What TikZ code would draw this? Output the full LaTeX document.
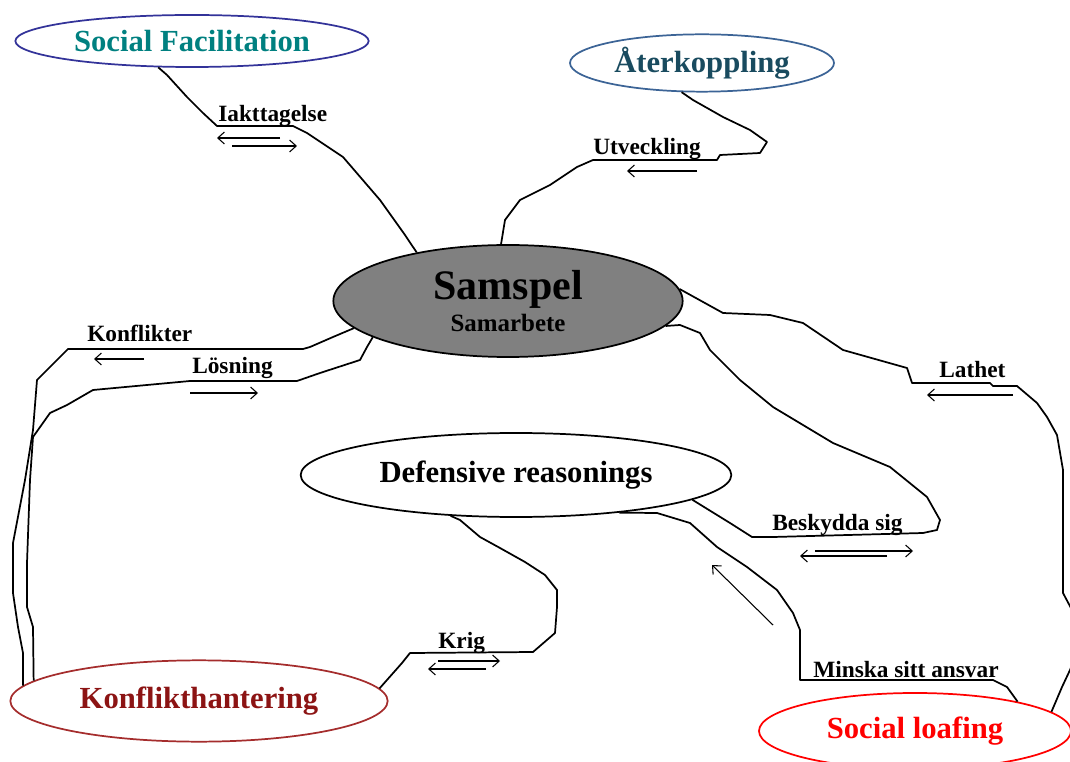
\documentclass[tikz,border=0pt]{standalone}
\usepackage{fontspec}
\setmainfont{Liberation Serif}
\usetikzlibrary{shapes.geometric,arrows.meta}
\definecolor{sfteal}{RGB}{0,128,128}
\definecolor{sfblue}{RGB}{51,51,153}
\definecolor{atblue}{RGB}{60,100,150}
\definecolor{attext}{RGB}{25,75,95}
\definecolor{khtext}{RGB}{140,20,20}
\definecolor{khline}{RGB}{165,45,45}
\definecolor{samgray}{RGB}{128,128,128}

\begin{document}
\begin{tikzpicture}[x=0.75pt,y=-0.75pt,
  bubble/.style={ellipse,draw,line width=1.3pt,inner sep=0pt,font=\bfseries\fontsize{23}{26}\selectfont},
  link/.style={line width=1.3pt,line join=round},
  lbl/.style={anchor=base west,inner sep=0pt,font=\bfseries\fontsize{17.5}{20}\selectfont},
  arr/.style={line width=0.8pt,-{Straight Barb[length=5pt,width=9pt]}}]
\useasboundingbox (0,0) rectangle (1070,762);
\clip (0,0) rectangle (1070,762);

\node[bubble,draw=sfblue,text=sfteal,minimum width=265pt,minimum height=39pt] (sf) at (192,41) {Social Facilitation};
\node[bubble,draw=atblue,text=attext,minimum width=198pt,minimum height=43pt] (at) at (702,63) {Återkoppling};
\node[bubble,fill=samgray,align=center,minimum width=262pt,minimum height=84pt] (sam) at (508,301)
  {\fontsize{31.5}{19}\selectfont Samspel\\[-2pt]\fontsize{18.7}{19}\selectfont Samarbete};
\node[bubble,minimum width=323pt,minimum height=63pt] (def) at (516,475) {Defensive reasonings};
\node[bubble,draw=khline,text=khtext,minimum width=283pt,minimum height=61pt] (kh) at (199,701) {Konflikthantering};
\node[bubble,draw=red,text=red,minimum width=234pt,minimum height=57pt] (sl) at (915,731) {Social loafing};

\node[lbl] (ia) at (218,122) {Iakttagelse};
\node[lbl] (ut) at (593,155) {Utveckling};
\node[lbl] (ko) at (87,342) {Konflikter};
\node[lbl] (lo) at (192,374) {Lösning};
\node[lbl] (la) at (939,378) {Lathet};
\node[lbl] (be) at (772,530) {Beskydda sig};
\node[lbl] (mi) at (813,677) {Minska sitt ansvar};
\node[lbl] (kr) at (438,648) {Krig};

\draw[link] (sf.218) -- (167,75) -- (187,97) -- (203,113) -- (217,126) -- (293,126) -- (307,133)
  -- (343,157) -- (380,200) -- (405,235) -- (sam.152);
\draw[link] (at.235) -- (693,100) -- (723,117) -- (750,130) -- (767,142) -- (760,153) -- (720,155)
  -- (717,160) -- (593,160) -- (577,167) -- (550,185) -- (520,200) -- (505,220) -- (sam.97);
\draw[link] (sam.190) -- (333,337) -- (310,347) -- (303,349) -- (68,349) -- (37,380) -- (33,430)
  -- (25,480) -- (13,543) -- (13,593) -- (18,627) -- (23,653) -- (kh.175);
\draw[link] (sam.195) -- (367,347) -- (360,360) -- (320,373) -- (297,381) -- (190,381) -- (93,390)
  -- (67,405) -- (50,413) -- (33,437) -- (30,480) -- (27,563) -- (27,607) -- (33,627) -- (kh.173);
\draw[link] (sam.4) -- (723,313) -- (770,315) -- (803,323) -- (843,350) -- (907,368) -- (912,383)
  -- (990,383) -- (993,386) -- (1017,386) -- (1037,403) -- (1047,417) -- (1057,435) -- (1063,470)
  -- (1063,593) -- (1072,610) -- (1082,640) -- (1070,670) -- (1062,687) -- (sl.8);
\draw[link] (sam.351) -- (680,325) -- (700,333) -- (710,350) -- (740,380) -- (773,407) -- (833,443)
  -- (890,467) -- (927,497) -- (940,520) -- (937,530) -- (923,533) -- (773,537) -- (752,537)
  -- (730,523) -- (def.352);
\draw[link] (def.340) -- (657,513) -- (690,523) -- (717,547) -- (747,567) -- (777,590) -- (793,613)
  -- (800,630) -- (800,680) -- (993,680) -- (1007,687) -- (sl.16);
\draw[link] (def.212) -- (460,520) -- (480,537) -- (500,548) -- (525,562) -- (545,575) -- (557,590)
  -- (557,607) -- (555,633) -- (533,652) -- (410,653) -- (402,663) -- (kh.4);

\foreach \n/\p in {ia1/{280,138},ia2/{217,138},ia3/{232,146},ia4/{297,146},
    ut1/{697,171},ut2/{627,171},ko1/{144,359},ko2/{94,359},lo1/{190,393},lo2/{258,393},
    la1/{1013,395},la2/{927,395},be1/{815,551},be2/{913,551},be3/{887,556},be4/{800,556},
    mi1/{773,625},mi2/{712,565},kr1/{438,661},kr2/{500,661},kr3/{486,669},kr4/{428,669}}
  \coordinate (\n) at (\p);
\path[arr] (ia1) edge (ia2) (ia3) edge (ia4);
\path[arr] (ut1) edge (ut2);
\path[arr] (ko1) edge (ko2) (lo1) edge (lo2);
\path[arr] (la1) edge (la2);
\path[arr] (be1) edge (be2) (be3) edge (be4);
\path[arr] (mi1) edge (mi2);
\path[arr] (kr1) edge (kr2) (kr3) edge (kr4);
\end{tikzpicture}
\end{document}
